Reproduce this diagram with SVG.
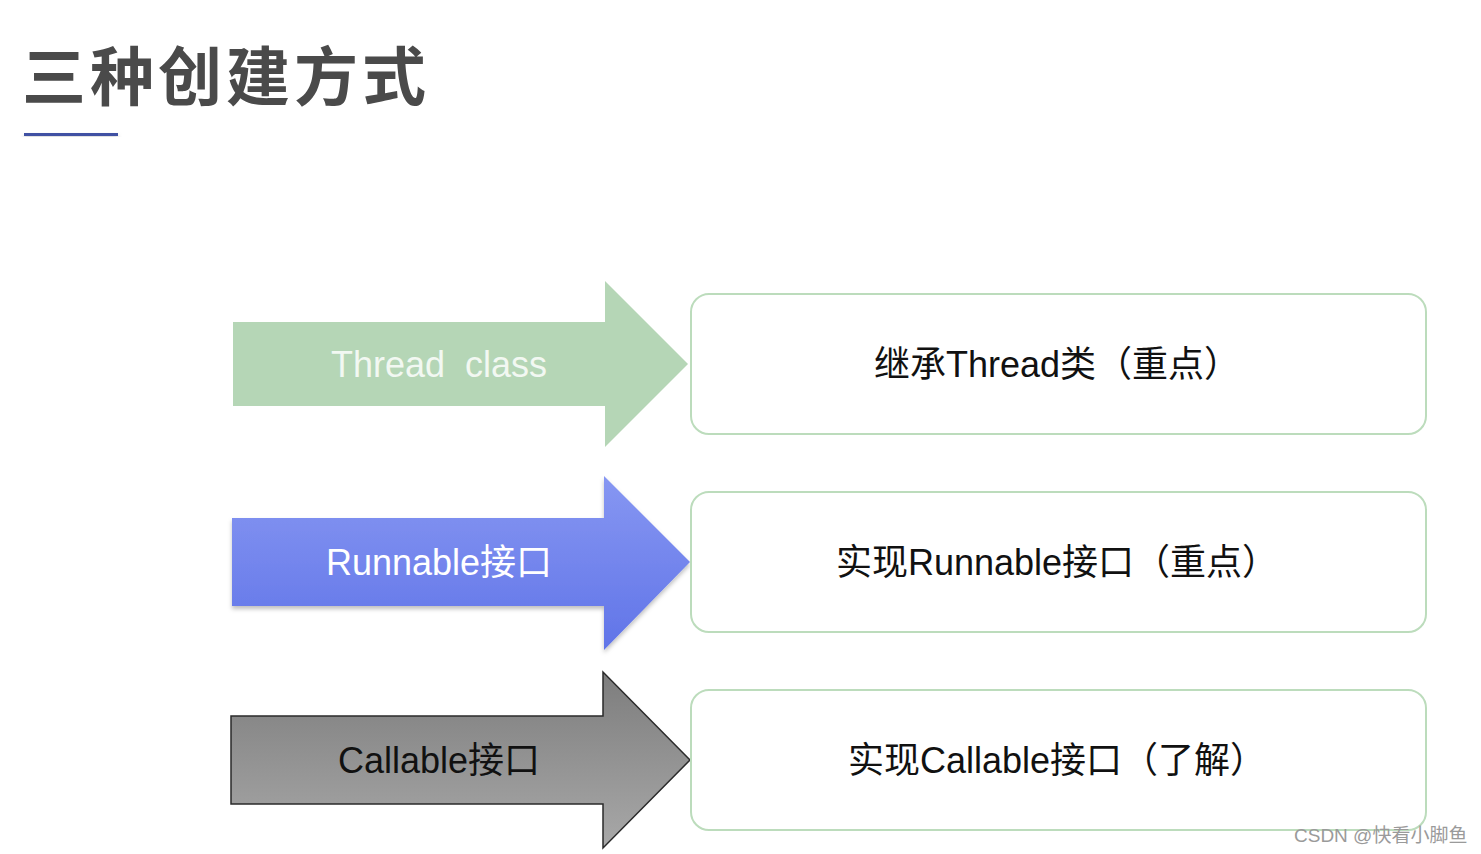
<svg xmlns="http://www.w3.org/2000/svg" width="1481" height="854" viewBox="0 0 1481 854">
<style>
.box{fill:#ffffff;stroke:#bcdcbc;stroke-width:2}
.t{font-family:"Liberation Sans","Noto Sans CJK SC",sans-serif;font-size:36px;text-anchor:middle;dominant-baseline:central}
.at{font-family:"Liberation Sans","Noto Sans CJK SC",sans-serif;font-size:36px;text-anchor:middle;dominant-baseline:central}
</style>
<defs>
<linearGradient id="gb" x1="0" y1="0" x2="0" y2="1">
<stop offset="0" stop-color="#8797f2"/><stop offset="1" stop-color="#6074e8"/>
</linearGradient>
<linearGradient id="gg" x1="0" y1="0" x2="0" y2="1">
<stop offset="0" stop-color="#7d7d7d"/><stop offset="1" stop-color="#a8a8a8"/>
</linearGradient>
<filter id="sh" x="-10%" y="-10%" width="120%" height="130%">
<feDropShadow dx="0" dy="3" stdDeviation="2" flood-color="#000" flood-opacity="0.25"/>
</filter>
</defs>
<rect width="1481" height="854" fill="#ffffff"/>
<g id="title">
<text x="22" y="100" font-family="Noto Sans CJK SC,sans-serif" font-size="64" font-weight="bold" fill="#4a4a4a" letter-spacing="4">三种创建方式</text>
<rect x="24" y="133" width="94" height="3" fill="#3f51a3" filter="url(#sh)"/>
</g>
<g id="arrow1">
<polygon points="233,322 605,322 605,281 688,364 605,447 605,406 233,406" fill="#b5d6b6"/>
<text class="at" x="439" y="364" fill="#f2f8f2" xml:space="preserve">Thread  class</text>
</g>
<g id="arrow2">
<polygon points="232,518 604,518 604,476 690,562 604,650 604,606 232,606" fill="url(#gb)" filter="url(#sh)"/>
<text class="at" x="439" y="562" fill="#ffffff">Runnable接口</text>
</g>
<g id="arrow3">
<polygon points="231,716 603,716 603,672 690,760 603,848 603,804 231,804" fill="url(#gg)" stroke="#2a2a2a" stroke-width="1.5"/>
<text class="at" x="439" y="760" fill="#111111">Callable接口</text>
</g>
<g id="box1">
<rect class="box" x="691" y="294" width="735" height="140" rx="18"/>
<text class="t" x="1057" y="364" fill="#111">继承Thread类（重点）</text>
</g>
<g id="box2">
<rect class="box" x="691" y="492" width="735" height="140" rx="18"/>
<text class="t" x="1057" y="562" fill="#111">实现Runnable接口（重点）</text>
</g>
<g id="box3">
<rect class="box" x="691" y="690" width="735" height="140" rx="18"/>
<text class="t" x="1057" y="760" fill="#111">实现Callable接口（了解）</text>
</g>
<g id="watermark">
<text x="1294" y="842" font-family="Liberation Sans,Noto Sans CJK SC,sans-serif" font-size="19" fill="#9a9a9a">CSDN @快看小脚鱼</text>
</g>
</svg>
